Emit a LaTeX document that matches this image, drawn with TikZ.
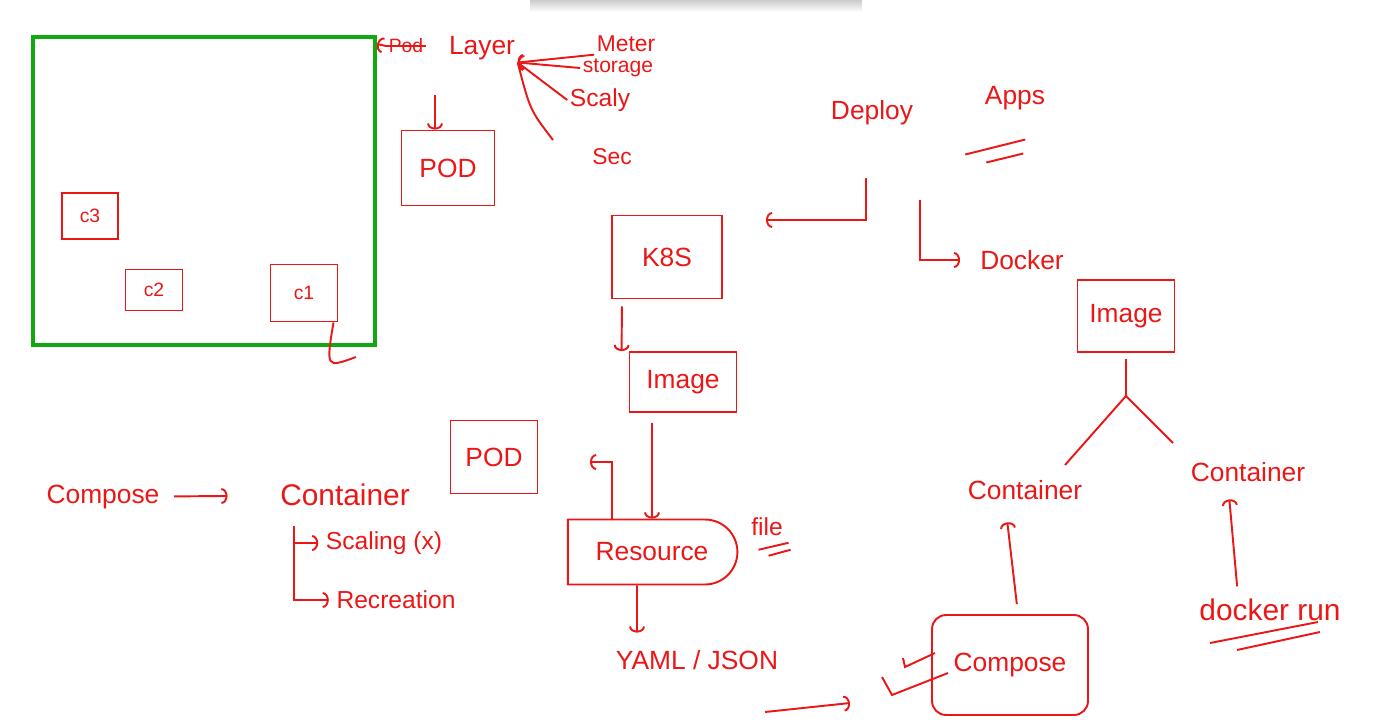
\documentclass[tikz,border=0pt]{standalone}
\usepackage{fontspec}
\setmainfont{Liberation Sans}
\usetikzlibrary{positioning,calc,arrows.meta,shapes.misc}
\definecolor{ink}{RGB}{235,22,22}
\definecolor{board}{RGB}{18,168,18}
\tikzset{>={Arc Barb[length=3.5pt,width=9pt]}}
\newcommand*{\hw}[1]{\fontsize{#1}{#1}\selectfont}

\begin{document}
\begin{tikzpicture}[x=0.02cm,y=-0.02cm,line width=1.1pt,ink,
  every node/.style={font=\hw{15},inner sep=1pt},
  box/.style 2 args={draw,minimum width=#1,minimum height=#2}]
\useasboundingbox (0,0) rectangle (1385,723);
\shade[top color=black!20,bottom color=white] (530,0) rectangle (862,12);
% Draw the green board with its three small boxes
\draw[board,line width=2.6pt] (33,37) rectangle (375,345);
\coordinate (boardin) at (377,44);
\node[box={1.12cm}{0.92cm},font=\hw{11}] (c3) at (90,216) {c3};
\node[box={1.14cm}{0.82cm},font=\hw{11}] (c2) at (154,290) {c2};
\node[box={1.34cm}{1.14cm},font=\hw{11}] (c1) at (304,293) {c1};
\coordinate (tailend) at (356,357);
\draw ([xshift=-0.1cm]c1.south east) .. controls (326,368) .. (tailend);
% Layer and what hangs from it
\node[font=\hw{11}] (podold) at (406,46) {Pod};
\draw (podold.west) -- (podold.east);
\draw[->] (podold.west) -- (boardin);
\node (layer) at (482,48) {Layer};
\node[font=\hw{13}] (meter) at (626,44) {Meter};
\node[font=\hw{12}] (storage) at (618,68) {storage};
\node[font=\hw{14}] (scaly) at (600,100) {Scaly};
\node[font=\hw{13}] (sec) at (612,157) {Sec};
\coordinate (secend) at (553,140);
\draw[<-] (layer.south east) -- (meter.south west);
\draw[<-] (layer.south east) -- (storage.west);
\draw (layer.south east) -- (scaly.west);
\draw (layer.south east) .. controls (530,110) .. (secend);
\node[box={1.86cm}{1.5cm}] (podtop) at (448,168) {POD};
\draw[->] ([xshift=-0.26cm,yshift=0.7cm]podtop.north) -- ([xshift=-0.26cm]podtop.north);
% Deploy, Apps and Docker
\node (deploy) at (872,113) {Deploy};
\node (apps) at (1015,98) {Apps};
\draw ([shift={(-17,42)}]apps.south west) -- ([shift={(43,27)}]apps.south west);
\draw ([shift={(4,50)}]apps.south west) -- ([shift={(41,41)}]apps.south west);
\coordinate (k8sarr) at (766,220);
\draw[->] ([shift={(-6,50)}]deploy.south) |- (k8sarr);
\node (docker) at (1022,260) {Docker};
\draw[->,shorten >=0.35cm] ([shift={(48,72)}]deploy.south) |- (docker.west);
% K8S chain down to the YAML / JSON file
\node[box={2.2cm}{1.66cm}] (k8s) at (667,257) {K8S};
\node[box={2.14cm}{1.2cm}] (imgmid) at (683,382) {Image};
\node[draw,rounded rectangle,rounded rectangle left arc=none,minimum width=3.46cm,minimum height=1.3cm] (resource) at (652,552) {Resource};
\draw[->,shorten <=0.14cm] ([xshift=0.22cm]k8s.south west) -- ([xshift=-0.14cm]imgmid.north west);
\draw[->,shorten <=0.2cm] ([xshift=-0.62cm]imgmid.south) -- (resource.north);
\coordinate (backtip) at (590,462);
\draw[->] ([xshift=-0.8cm]resource.north) |- (backtip);
\node[font=\hw{14}] (file) at (767,527) {file};
\draw ([shift={(10,11)}]file.south west) -- ([shift={(40,4)}]file.south west);
\draw ([shift={(20,17)}]file.south west) -- ([shift={(42,11)}]file.south west);
\node (yaml) at (697,660) {YAML / JSON};
\draw[->,shorten >=0.3cm] ([xshift=-0.3cm]resource.south) -- ([xshift=-1.2cm]yaml.north);
\coordinate (ystart) at (765,712);
\coordinate (yend) at (850,703);
\draw[->] (ystart) -- (yend);
% Compose box and the two containers of the image
\node[draw,rounded corners=8pt,minimum width=3.12cm,minimum height=2cm] (compbox) at (1010,665) {Compose};
\draw (903,658) -- (905,667) -- (935,653);
\draw (882,677) -- (892,695) -- (948,673);
\node[box={1.94cm}{1.44cm}] (imgright) at (1126,316) {Image};
\coordinate (fork) at ([yshift=-0.86cm]imgright.south);
\coordinate (forkl) at (1065,465);
\coordinate (forkr) at (1173,443);
\draw ([yshift=-0.12cm]imgright.south) -- (fork);
\draw (forkl) -- (fork) -- (forkr);
\node (contl) at (1025,490) {Container};
\node (contr) at (1248,472) {Container};
\draw[->,shorten >=0.4cm,shorten <=0.2cm] ([xshift=0.16cm]compbox.north) -- ([xshift=-0.4cm]contl.south);
\node[font=\hw{17}] (drun) at (1270,610) {docker run};
\draw ([shift={(-60,33)}]drun.center) -- ([shift={(48,12)}]drun.center);
\draw ([shift={(-33,40)}]drun.center) -- ([shift={(50,22)}]drun.center);
\draw[->,shorten >=0.3cm,shorten <=0.2cm] ([xshift=-0.64cm]drun.north) -- ([xshift=-0.4cm]contr.south);
% Compose on its own, with scaling and recreation
\node (composel) at (103,497) {Compose};
\node[font=\hw{17}] (contleft) at (345,495) {Container};
\draw[->,shorten <=0.24cm,shorten >=1cm] (composel) -- (contleft);
\node[font=\hw{14}] (scaling) at (384,543) {Scaling (x)};
\node[font=\hw{14}] (recreation) at (396,600) {Recreation};
\coordinate (fanroot) at (294,526);
\draw[->,shorten >=0.1cm] (fanroot) |- (scaling.west);
\draw[->,shorten >=0.1cm] (fanroot) |- (recreation.west);
\node[box={1.74cm}{1.46cm}] (podmid) at (494,457) {POD};
\end{tikzpicture}
\end{document}
